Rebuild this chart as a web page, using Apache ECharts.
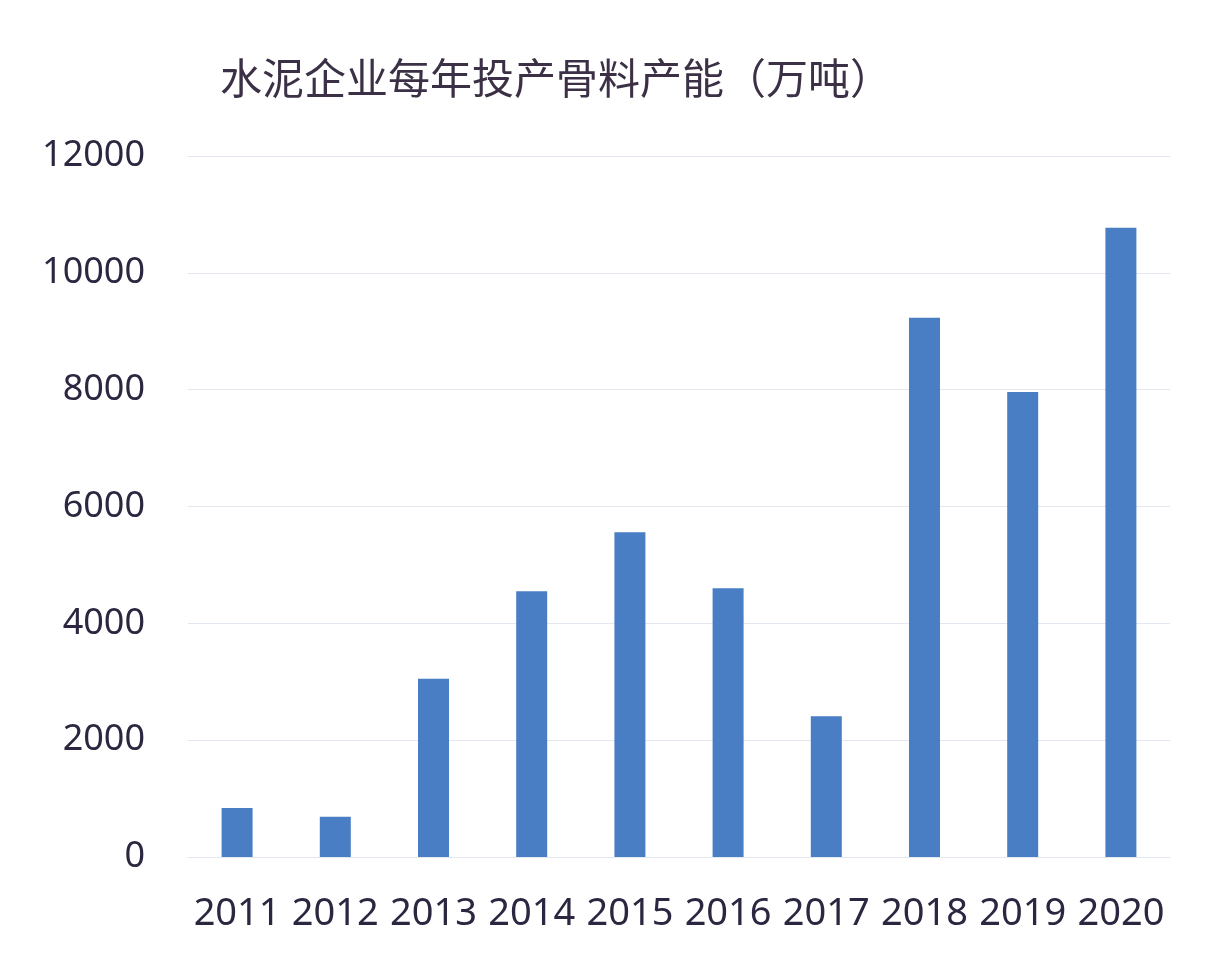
<!DOCTYPE html>
<html><head><meta charset="utf-8">
<script src="https://cdn.jsdelivr.net/npm/echarts@6/dist/echarts.min.js"></script>
<style>html,body{margin:0;padding:0;background:#fff}#c{width:1214px;height:968px}</style>
</head><body><div id="c"></div>
<script>
var years = ["2011","2012","2013","2014","2015","2016","2017","2018","2019","2020"];
var capacity = [840, 690, 3050, 4550, 5560, 4600, 2410, 9230, 7960, 10770];

var myChart = echarts.init(document.getElementById('c'));
var option = {
    backgroundColor: '#fff',
    title: {
        text: '水泥企业每年投产骨料产能（万吨）',
        left: 215,
        top: 52,
        textStyle: {fontSize: 42, fontWeight: 'normal', color: '#3b3045', fontFamily: 'Noto Sans CJK SC'}
    },
    grid: {left: 188, right: 44, top: 156, bottom: 111},
    xAxis: {
        type: 'category',
        data: years,
        axisLine: {lineStyle: {color: '#e3e8f0'}},
        axisTick: {show: false},
        axisLabel: {interval: 0, fontSize: 38, color: '#2d2640', margin: 38, fontFamily: 'Noto Sans'}
    },
    yAxis: {
        type: 'value',
        min: 0, max: 12000, interval: 2000,
        axisLine: {show: false},
        axisTick: {show: false},
        splitLine: {lineStyle: {color: '#e3e8f0'}},
        axisLabel: {fontSize: 36, color: '#2d2640', margin: 43, fontFamily: 'Noto Sans',
            formatter: function (v) { return String(v); }}
    },
    series: [{
        type: 'bar',
        data: capacity,
        barWidth: 31,
        itemStyle: {color: '#4a7ec4'}
    }]
};
myChart.setOption(option, true);
</script></body></html>
